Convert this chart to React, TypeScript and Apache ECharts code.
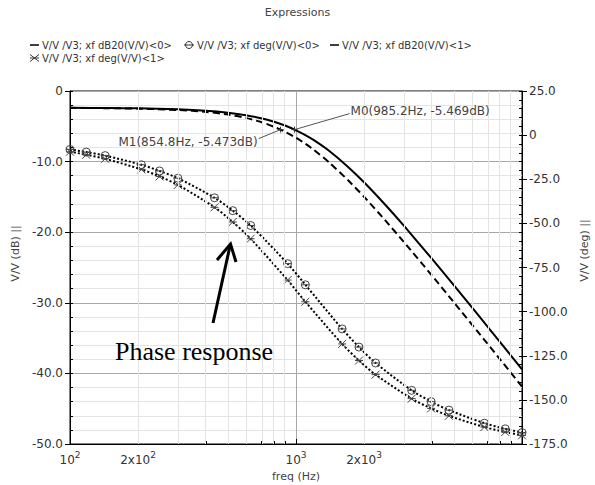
import React, { useEffect, useRef } from "react";
import * as echarts from "echarts";

// ---- data ----
const FREQ_MAG = [100, 150, 200, 300, 400, 500, 600, 700, 800, 900, 1000, 1100, 1200, 1400, 1700, 2000, 2500, 3000, 4000, 5000, 6500, 8000, 10000];
const MAG_0 = [-2.39, -2.42, -2.46, -2.60, -2.80, -3.08, -3.42, -3.85, -4.36, -4.93, -5.57, -6.25, -6.97, -8.47, -10.75, -12.93, -16.22, -19.08, -23.79, -27.54, -32.01, -35.57, -39.42];
const MAG_1 = [-2.39, -2.44, -2.50, -2.69, -2.96, -3.33, -3.81, -4.39, -5.07, -5.82, -6.62, -7.47, -8.34, -10.10, -12.64, -14.98, -18.43, -21.38, -26.16, -29.95, -34.44, -38.01, -41.87];
const FREQ_PHASE = [100, 118, 143, 207, 249, 300, 436, 525, 630, 918, 1100, 1600, 1900, 2250, 3250, 3960, 4750, 6820, 8430, 10000];
const PHASE_0 = [-8.1, -9.6, -11.6, -16.8, -20.3, -24.4, -35.5, -42.8, -51.2, -72.8, -84.8, -109.8, -120.1, -129.1, -144.6, -151.0, -155.8, -163.2, -166.4, -168.5];
const PHASE_1 = [-9.4, -11.1, -13.4, -19.4, -23.4, -28.2, -40.9, -49.2, -58.7, -82.1, -94.4, -118.3, -127.7, -135.7, -149.3, -154.8, -159.0, -165.4, -168.2, -170.1];

const SERIES_NAMES = [
  "V/V /V3; xf dB20(V/V)<0>",
  "V/V /V3; xf deg(V/V)<0>",
  "V/V /V3; xf dB20(V/V)<1>",
  "V/V /V3; xf deg(V/V)<1>",
];
const X_LABEL_FREQS = [100, 200, 1000, 2000];
const X_MINOR_FREQS = [200, 300, 400, 500, 600, 700, 800, 900, 2000, 3000, 4000, 5000, 6000, 7000, 8000, 9000];
const MARKERS = [
  { label: "M0(985.2Hz, -5.469dB)", freq: 985.2, db: -5.469 },
  { label: "M1(854.8Hz, -5.473dB)", freq: 854.8, db: -5.473 },
];

const FONT = "DejaVu Sans";
const lg = (f: number) => Math.log10(f);
const numFmt = (v: number) => (Math.abs(v) < 1e-9 ? "0" : v.toFixed(1));

const CIRCLE_SYM = "path://M10,5A5,5,0,1,1,0,5A5,5,0,1,1,10,5ZM0,5L10,5";
const CROSS_SYM = "path://M0,0L10,10M10,0L0,10M0,5L10,5";

export default function App() {
  const ref = useRef<HTMLDivElement>(null);
  useEffect(() => {
    if (!ref.current) return;
    const chart = echarts.init(ref.current, undefined, { renderer: "svg" });

    const xFmt = (v: number) => {
      const n = Math.floor(v + 1e-6);
      const frac = v - n;
      if (Math.abs(frac) < 1e-3) return `{b|10}{s|${n}}`;
      return `{b|2x10}{s|${n}}`;
    };

    const option: any = {
      animation: false,
      backgroundColor: "#fff",
      title: {
        text: "Expressions",
        left: "center",
        top: 7,
        padding: 0,
        textStyle: { fontFamily: FONT, fontSize: 11, fontWeight: "normal", color: "#444" },
      },
      grid: {
        left: 70,
        right: 73,
        top: 91,
        bottom: 41,
        show: true,
        borderColor: "#000",
        borderWidth: 1,
        backgroundColor: "transparent",
        containLabel: false,
        outerBoundsMode: "none",
      },
      xAxis: [
        {
          type: "value",
          min: 2,
          max: 4,
          interval: 1,
          position: "bottom",
          name: "freq (Hz)",
          nameLocation: "middle",
          nameGap: 24,
          nameTextStyle: { fontFamily: FONT, fontSize: 11, color: "#444" },
          axisLine: { show: true, onZero: false, lineStyle: { color: "#000", width: 1 } },
          axisTick: { show: true, inside: true, length: 5, lineStyle: { color: "#000" } },
          axisLabel: {
            customValues: X_LABEL_FREQS.map(lg),
            formatter: xFmt,
            margin: 6,
            rich: {
              b: { fontFamily: FONT, fontSize: 12, color: "#333", lineHeight: 16, verticalAlign: "bottom" },
              s: { fontFamily: FONT, fontSize: 9, color: "#333", lineHeight: 16, verticalAlign: "top" },
            },
          },
          splitLine: { show: true, lineStyle: { color: "#a8a8a8", width: 1 } },
        },
        {
          type: "value",
          min: 2,
          max: 4,
          position: "bottom",
          axisLine: { show: false, onZero: false },
          axisTick: { show: true, inside: true, length: 3, customValues: X_MINOR_FREQS.map(lg), lineStyle: { color: "#000" } },
          axisLabel: { show: false },
          splitLine: { show: false },
        },
      ],
      yAxis: [
        {
          type: "value",
          position: "left",
          min: -50,
          max: 0,
          interval: 10,
          name: "V/V (dB) ||",
          nameLocation: "middle",
          nameRotate: 90,
          nameGap: 42,
          nameTextStyle: { fontFamily: FONT, fontSize: 11, color: "#444", padding: [0, 0, 0, 28] },
          axisLine: { show: true, onZero: false, lineStyle: { color: "#000" } },
          axisTick: { show: true, length: 5, lineStyle: { color: "#000" } },
          axisLabel: { formatter: numFmt, fontFamily: FONT, fontSize: 12, color: "#333", margin: 7 },
          splitLine: { show: true, lineStyle: { color: "#a8a8a8" } },
          minorTick: { show: false, splitNumber: 5 },
          minorSplitLine: { show: true, lineStyle: { color: "#e4e4e4" } },
        },
        {
          type: "value",
          position: "right",
          min: -175,
          max: 25,
          interval: 25,
          name: "V/V (deg) ||",
          nameLocation: "middle",
          nameRotate: 90,
          nameGap: 56,
          nameTextStyle: { fontFamily: FONT, fontSize: 11, color: "#444", padding: [0, 0, 0, 34] },
          axisLine: { show: true, onZero: false, lineStyle: { color: "#000" } },
          axisTick: { show: true, length: 5, lineStyle: { color: "#000" } },
          axisLabel: { formatter: numFmt, fontFamily: FONT, fontSize: 12, color: "#333", margin: 7 },
          splitLine: { show: false },
        },
        {
          type: "value",
          position: "left",
          min: -50,
          max: 0,
          interval: 2,
          axisLine: { show: false, onZero: false },
          axisTick: { show: true, inside: true, length: 3, lineStyle: { color: "#000" } },
          axisLabel: { show: false },
          splitLine: { show: false },
        },
        {
          type: "value",
          position: "right",
          min: -175,
          max: 25,
          interval: 5,
          axisLine: { show: false, onZero: false },
          axisTick: { show: true, inside: true, length: 3, lineStyle: { color: "#000" } },
          axisLabel: { show: false },
          splitLine: { show: false },
        },
      ],
      series: [
        {
          type: "line",
          name: "grid",
          data: [],
          z: 1,
          silent: true,
          markLine: {
            silent: true,
            symbol: ["none", "none"],
            label: { show: false },
            lineStyle: { color: "#e4e4e4", width: 1, type: "solid" },
            data: X_MINOR_FREQS.map((f) => ({ xAxis: lg(f) })),
          },
        },
        {
          type: "line",
          name: SERIES_NAMES[0],
          data: FREQ_MAG.map((f, i) => [lg(f), MAG_0[i]]),
          showSymbol: false,
          smooth: 0.2,
          lineStyle: { color: "#000", width: 2 },
          z: 3,
        },
        {
          type: "line",
          name: SERIES_NAMES[2],
          data: FREQ_MAG.map((f, i) => [lg(f), MAG_1[i]]),
          showSymbol: false,
          smooth: 0.2,
          lineStyle: { color: "#000", width: 2, type: [7, 4] },
          z: 3,
        },
        {
          type: "line",
          name: SERIES_NAMES[1],
          yAxisIndex: 1,
          data: FREQ_PHASE.map((f, i) => [lg(f), PHASE_0[i]]),
          smooth: 0.3,
          symbol: CIRCLE_SYM,
          symbolSize: 8,
          itemStyle: { color: "rgba(0,0,0,0)", borderColor: "#444", borderWidth: 1 },
          lineStyle: { color: "#000", width: 2, type: [2, 2] },
          z: 3,
        },
        {
          type: "line",
          name: SERIES_NAMES[3],
          yAxisIndex: 1,
          data: FREQ_PHASE.map((f, i) => [lg(f), PHASE_1[i]]),
          smooth: 0.3,
          symbol: CROSS_SYM,
          symbolSize: 8,
          itemStyle: { color: "rgba(0,0,0,0)", borderColor: "#444", borderWidth: 1 },
          lineStyle: { color: "#000", width: 2, type: [2, 2] },
          z: 3,
        },
      ],
    };
    chart.setOption(option);

    // marker annotations positioned through the axes
    const p0 = chart.convertToPixel({ xAxisIndex: 0, yAxisIndex: 0 }, [lg(MARKERS[0].freq), MARKERS[0].db]) as number[];
    const p1 = chart.convertToPixel({ xAxisIndex: 0, yAxisIndex: 0 }, [lg(MARKERS[1].freq), MARKERS[1].db]) as number[];
    const txt = (x: number, y: number, text: string, align = "left", size = 10, color = "#333", family = FONT) => ({
      type: "text",
      x,
      y,
      style: { text, fill: color, font: `${size}px "${family}"`, textAlign: align, textVerticalAlign: "middle" },
      z: 10,
    });
    const seg = (x1: number, y1: number, x2: number, y2: number, w = 1, c = "#555") => ({
      type: "line",
      shape: { x1, y1, x2, y2 },
      style: { stroke: c, lineWidth: w },
      z: 10,
    });
    const cross = (p: number[]) => [seg(p[0] - 3, p[1], p[0] + 3, p[1], 1, "#333"), seg(p[0], p[1] - 3, p[0], p[1] + 3, 1, "#333")];

    const graphic: any[] = [
      // legend
      seg(30, 45, 39, 45, 1.5, "#000"),
      txt(42, 45, SERIES_NAMES[0]),
      { type: "circle", shape: { cx: 189, cy: 45, r: 3.5 }, style: { stroke: "#333", fill: "none", lineWidth: 1 }, z: 10 },
      seg(184, 45, 194, 45, 1, "#333"),
      txt(197, 45, SERIES_NAMES[1]),
      seg(330, 45, 339, 45, 1.5, "#000"),
      txt(342, 45, SERIES_NAMES[2]),
      seg(30, 54.5, 39, 61.5, 1, "#333"),
      seg(39, 54.5, 30, 61.5, 1, "#333"),
      seg(30, 58, 39, 58, 1, "#333"),
      txt(42, 58, SERIES_NAMES[3]),
      // markers
      seg(p0[0], p0[1], p0[0] + 55, p0[1] - 16),
      txt(p0[0] + 56, p0[1] - 19, MARKERS[0].label, "left", 12, "#444"),
      ...cross(p0),
      seg(p1[0], p1[1], p1[0] - 22, p1[1] + 9),
      txt(p1[0] - 23, p1[1] + 12, MARKERS[1].label, "right", 12, "#444"),
      ...cross(p1),
      // annotation
      txt(115, 351, "Phase response", "left", 26, "#000", "Liberation Serif"),
      seg(213, 323, 230, 246, 3, "#000"),
      {
        type: "polyline",
        shape: { points: [[217, 260], [230.5, 244], [236, 262]] },
        style: { stroke: "#000", lineWidth: 3, fill: "none" },
        z: 10,
      },
    ];
    chart.setOption({ graphic });

    return () => chart.dispose();
  }, []);

  return (
    <div style={{ position: "absolute", left: 0, top: 0, width: 595, height: 485, background: "#fff" }}>
      <div ref={ref} style={{ width: 595, height: 485 }} />
    </div>
  );
}
